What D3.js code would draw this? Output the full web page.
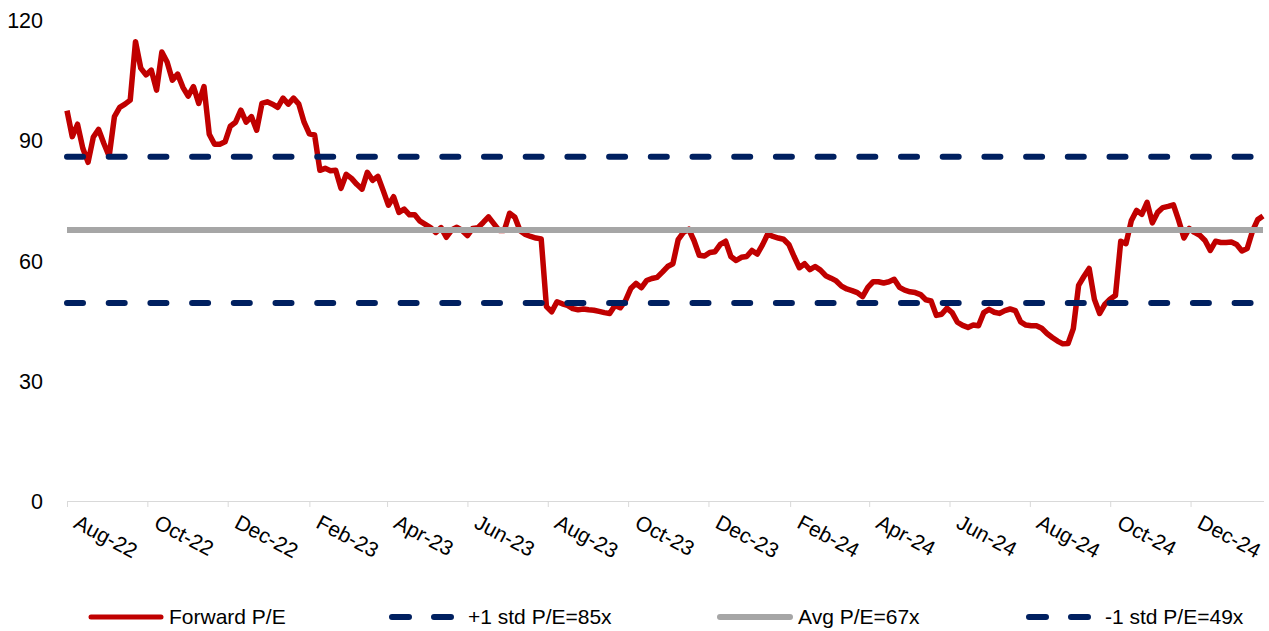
<!DOCTYPE html>
<html><head><meta charset="utf-8">
<script src="https://cdn.jsdelivr.net/npm/d3@7"></script>
<style>
body{margin:0;background:#fff}
svg{display:block;font-family:"Liberation Sans",Arial,sans-serif}
</style>
</head><body>
<svg id="chart" width="1269" height="631"></svg>
<script>
// ---- data ----
const startDate = "2022-08-01";
const endDate = "2025-01-27";
const stepDays = 4;
const forwardPE = [
97.4,90.9,94.0,88.0,84.5,90.8,92.7,89.2,86.0,95.9,
98.2,99.0,100.0,114.6,108.0,106.3,107.5,102.5,112.0,109.5,
105.0,106.5,103.2,101.0,103.4,99.2,103.4,91.5,89.0,89.0,
89.6,93.5,94.5,97.5,94.5,95.9,92.5,99.2,99.6,99.0,
98.2,100.5,99.0,100.5,99.0,94.5,91.6,91.3,82.5,83.0,
82.4,82.5,78.0,81.5,80.5,79.0,77.8,82.0,80.0,81.0,
77.5,73.8,75.9,72.0,72.8,71.4,71.4,69.8,69.0,68.2,
67.0,68.2,65.8,67.6,68.3,67.5,66.2,68.0,68.2,69.5,
70.9,69.2,67.5,67.5,71.8,70.8,67.4,66.5,66.0,65.6,
65.4,48.5,47.2,49.7,49.2,48.8,48.0,47.7,47.9,47.7,
47.6,47.3,47.0,46.8,48.8,48.2,50.0,53.0,54.3,53.2,
55.0,55.5,55.8,57.1,58.5,59.2,65.2,67.0,67.8,65.0,
61.3,61.1,62.0,62.2,64.0,64.8,61.0,60.0,60.8,61.0,
62.5,61.6,63.9,66.6,66.0,65.6,65.3,64.0,61.0,58.2,
59.2,57.7,58.5,57.6,56.2,55.6,54.9,53.6,52.9,52.5,
52.0,51.0,53.3,54.7,54.7,54.4,54.7,55.3,53.3,52.6,
52.2,52.0,51.5,50.2,49.9,46.3,46.6,48.1,47.0,44.6,
43.8,43.3,43.9,43.7,47.0,47.8,47.1,46.8,47.5,47.9,
47.5,44.7,43.9,43.7,43.7,43.1,41.8,40.8,39.9,39.2,
39.3,43.0,53.8,56.0,58.0,50.3,46.8,49.1,50.4,51.3,
64.8,64.2,69.9,72.5,71.5,74.5,69.4,72.0,73.2,73.5,
73.9,70.0,65.6,68.0,67.0,66.3,65.0,62.5,64.8,64.5,
64.5,64.6,64.0,62.4,63.0,67.3,70.2,71.1
];
const plusStdPE = 85.9;
const avgPE = 67.6;
const minusStdPE = 49.4;
const yTicks = [0, 30, 60, 90, 120];
const xTickLabels = ["Aug-22","Oct-22","Dec-22","Feb-23","Apr-23","Jun-23","Aug-23","Oct-23","Dec-23","Feb-24","Apr-24","Jun-24","Aug-24","Oct-24","Dec-24"];
const seriesNames = ["Forward P/E","+1 std P/E=85x","Avg P/E=67x","-1 std P/E=49x"];

// ---- layout / style ----
const RED = "#C00000", NAVY = "#002060", GREY = "#A6A6A6", AXIS = "#D9D9D9";
const FONT = "'Liberation Sans',Arial,sans-serif";
const svg = d3.select("#chart");
const parse = d3.utcParse("%Y-%m-%d");
const dates = d3.utcDay.range(parse(startDate), parse(endDate), stepDays);
const series = dates.map((d, i) => ({date: d, value: forwardPE[i]}));

const x = d3.scaleUtc().domain([parse(startDate), d3.utcDay.offset(parse(startDate), 908)]).range([67, 1263]);
const y = d3.scaleLinear().domain([0, 120]).range([501, 20]);

// y axis labels (no line)
const yAxis = d3.axisLeft(y).tickValues(yTicks).tickSize(0).tickPadding(0);
const yg = svg.append("g").attr("transform", "translate(43,0)").call(yAxis);
yg.select(".domain").remove();
yg.selectAll("text").attr("font-size", 21.5).attr("font-family", FONT).attr("fill", "#000").attr("dy", "0.35em");

// x axis
const tickDates = d3.utcMonth.range(parse("2022-08-01"), parse("2025-01-01"), 2);
const xAxis = d3.axisBottom(x).tickValues(tickDates).tickSize(6).tickFormat((d, i) => xTickLabels[i]);
const xg = svg.append("g").attr("transform", "translate(0,501)").call(xAxis);
xg.select(".domain").attr("stroke", AXIS).attr("d", "M67.5,0.5H1264");
xg.selectAll(".tick line").attr("stroke", AXIS);
xg.selectAll(".tick text")
  .attr("font-size", 21).attr("font-family", FONT).attr("fill", "#000")
  .attr("text-anchor", "start").attr("y", 0).attr("dy", 0)
  .attr("transform", "translate(5,26) rotate(28)");

// main line
const line = d3.line().x(d => x(d.date)).y(d => y(d.value)).curve(d3.curveLinear);
svg.append("path").datum(series).attr("d", line)
  .attr("fill", "none").attr("stroke", RED).attr("stroke-width", 5.5).attr("stroke-linejoin", "round");

// reference lines
const x0 = x.range()[0], x1 = x.range()[1];
function hline(v, color, dashed) {
  const p = svg.append("path").attr("d", d3.line()([[x0, y(v)], [x1, y(v)]]))
    .attr("fill", "none").attr("stroke", color).attr("stroke-width", 6);
  if (dashed) p.attr("stroke-dasharray", "16,25.7").attr("stroke-linecap", "round");
  return p;
}
hline(plusStdPE, NAVY, true);
hline(avgPE, GREY, false);
hline(minusStdPE, NAVY, true);

// legend
const legendX = [88, 389, 717, 1026];
const legendStyle = [
  {color: RED, dash: null, w: 5},
  {color: NAVY, dash: "17,25", w: 6},
  {color: GREY, dash: null, w: 6},
  {color: NAVY, dash: "17,25", w: 6}
];
const lg = svg.append("g");
seriesNames.forEach((name, i) => {
  const st = legendStyle[i];
  const lx = legendX[i];
  const ly = 617;
  const p = lg.append("line").attr("x1", lx + 3).attr("x2", lx + 73).attr("y1", ly).attr("y2", ly)
    .attr("stroke", st.color).attr("stroke-width", st.w).attr("stroke-linecap", "round");
  if (st.dash) p.attr("stroke-dasharray", st.dash);
  lg.append("text").attr("x", lx + (st.dash ? 79 : 81)).attr("y", ly).attr("dy", "0.35em")
    .attr("font-size", 21).attr("font-family", FONT).attr("fill", "#000").text(name);
});
</script>
</body></html>
